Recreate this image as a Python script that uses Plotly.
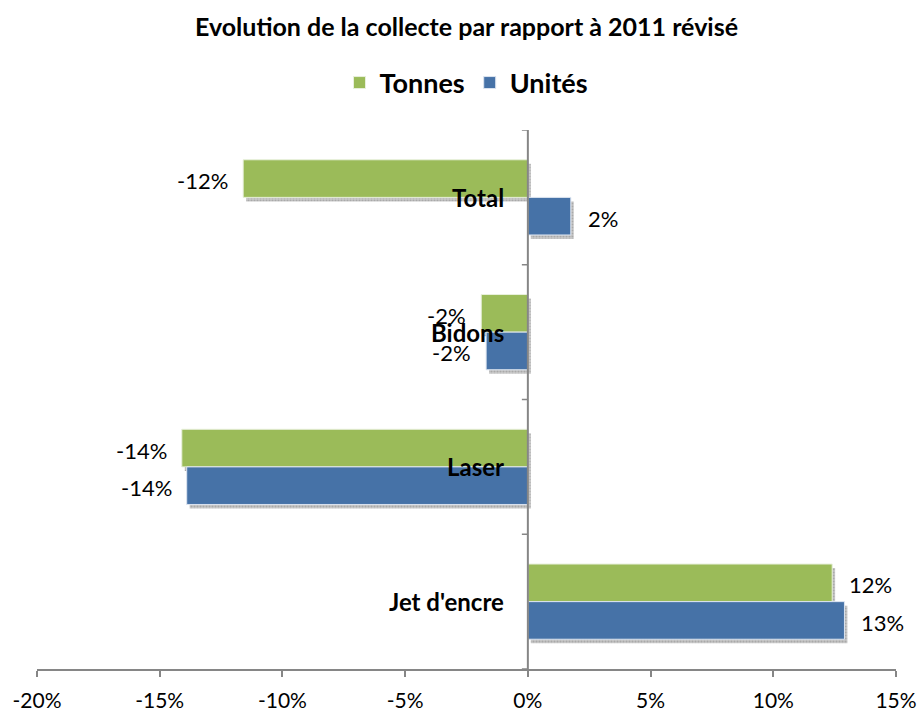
import plotly.graph_objects as go

categories = ["Jet d'encre", "Laser", "Bidons", "Total"]
tonnes = [0.124, -0.141, -0.019, -0.116]
unites = [0.129, -0.139, -0.017, 0.0175]
x_ticks = [-0.20, -0.15, -0.10, -0.05, 0.0, 0.05, 0.10, 0.15]
x_tick_labels = ["-20%", "-15%", "-10%", "-5%", "0%", "5%", "10%", "15%"]

GREEN = "#9BBB59"
BLUE = "#4672A7"
SHADOW = "rgba(150,150,150,0.5)"
FONT = "Lato"
BW = 0.279
SHX = 0.0012
SHY = 0.03

fig = go.Figure()
# shadows
fig.add_trace(go.Bar(y=categories, x=tonnes, base=SHX, orientation="h", width=BW, offset=-SHY,
                     marker=dict(color=SHADOW, line=dict(width=0),
                                 pattern=dict(shape=".", fgcolor="#8a8a8a", size=3, solidity=0.4)),
                     showlegend=False, hoverinfo="skip"))
fig.add_trace(go.Bar(y=categories, x=unites, base=SHX, orientation="h", width=BW, offset=-BW - SHY,
                     marker=dict(color=SHADOW, line=dict(width=0),
                                 pattern=dict(shape=".", fgcolor="#8a8a8a", size=3, solidity=0.4)),
                     showlegend=False, hoverinfo="skip"))
# bars
fig.add_trace(go.Bar(name="Tonnes", y=categories, x=tonnes, orientation="h", width=BW, offset=0,
                     marker=dict(color=GREEN, line=dict(color="#E8F0DC", width=1))))
fig.add_trace(go.Bar(name="Unités", y=categories, x=unites, orientation="h", width=BW, offset=-BW,
                     marker=dict(color=BLUE, line=dict(color="#DCE4F0", width=1))))

# data labels
for vals, dy in [(tonnes, BW / 2), (unites, -BW / 2)]:
    for i, v in enumerate(vals):
        fig.add_annotation(x=v, y=i + dy, xref="x", yref="y", text="%d%%" % round(v * 100),
                           showarrow=False, xanchor="right" if v < 0 else "left",
                           xshift=-13 if v < 0 else 15, yanchor="middle", yshift=-2,
                           font=dict(family=FONT, size=22, color="black"))

# category labels at the zero axis
for i, c in enumerate(categories):
    fig.add_annotation(x=0, y=i, xref="x", yref="y", text="<b>%s</b>" % c, showarrow=False,
                       xanchor="right", yanchor="middle", xshift=-22,
                       font=dict(family=FONT, size=24, color="black"))

# vertical axis at zero with tick marks at category boundaries
fig.add_shape(type="line", xref="x", yref="y", x0=0, x1=0, y0=-0.5, y1=3.5,
              line=dict(color="#868686", width=2), layer="above")
for b in [-0.5, 0.5, 1.5, 2.5, 3.5]:
    fig.add_shape(type="line", xref="x", yref="y", xsizemode="pixel", xanchor=0,
                  x0=-6, x1=0, y0=b, y1=b, line=dict(color="#868686", width=1.5))

fig.update_layout(
    width=919, height=711,
    margin=dict(l=37, r=23, t=130, b=42, autoexpand=False),
    barmode="overlay",
    plot_bgcolor="white", paper_bgcolor="white",
    font=dict(family=FONT, size=22, color="black"),
    title=dict(text="<b>Evolution de la collecte par rapport à 2011 révisé</b>",
               x=0.5, xref="paper", xanchor="center", y=1 - 27 / 711, yanchor="middle",
               font=dict(family=FONT, size=25, color="black")),
    legend=dict(orientation="h", x=0.5, xanchor="center", xref="paper",
                y=1 + (130 - 83) / 539, yanchor="middle",
                font=dict(family=FONT, size=27, color="black", weight="bold"),
                itemwidth=30, tracegroupgap=0),
    xaxis=dict(range=[-0.20, 0.15], tickvals=x_ticks, ticktext=x_tick_labels, automargin=False,
               showgrid=False, zeroline=False, showline=True, linecolor="#868686", linewidth=2,
               ticks="outside", ticklen=6, tickcolor="#868686", tickwidth=1.5,
               ticklabelstandoff=6,
               tickfont=dict(family=FONT, size=21, color="black")),
    yaxis=dict(range=[-0.5, 3.5], showticklabels=False, showgrid=False, zeroline=False,
               showline=False, ticks="", automargin=False),
    showlegend=True,
)

fig.write_html("out.html", config={"displayModeBar": False},
               post_script="document.body.style.margin='0px';document.body.style.overflow='hidden';")
